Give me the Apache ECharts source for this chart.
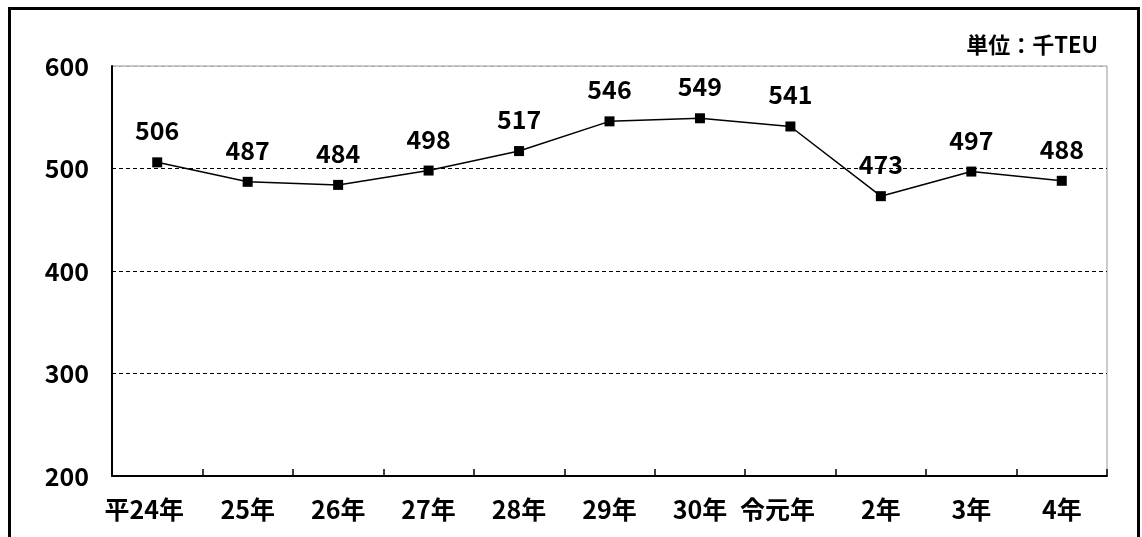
<!DOCTYPE html>
<html><head><meta charset="utf-8">
<script src="https://cdn.jsdelivr.net/npm/echarts@6/dist/echarts.min.js"></script>
<style>html,body{margin:0;padding:0;background:#fff}#c{width:1142px;height:537px}</style>
</head><body><div id="c"></div>
<script>
const categories = ['平24年','25年','26年','27年','28年','29年','30年','令元年','2年','3年','4年'];
const values = [506, 487, 484, 498, 517, 546, 549, 541, 473, 497, 488];
const yTicks = { min: 200, max: 600, interval: 100 };
const unitText = '単位：千TEU';

const FONT = "'Noto Sans CJK JP', sans-serif";
const chart = echarts.init(document.getElementById('c'), null, {renderer: 'canvas'});
const shifted = {'平24年': true, '令元年': true};
chart.setOption({
  animation: false,
  backgroundColor: '#fff',
  graphic: [
    {type: 'rect', shape: {x: 9.5, y: 8.5, width: 1129, height: 600},
     style: {fill: 'none', stroke: '#000', lineWidth: 3}, z: 100},
    {type: 'text', right: 44, top: 34,
     style: {text: unitText, font: 'bold 22px ' + FONT, fill: '#000'}}
  ],
  grid: {left: 112, right: 35, top: 66, bottom: 61, show: true,
         borderColor: '#999', borderWidth: 1, backgroundColor: 'transparent'},
  xAxis: {
    type: 'category', data: categories, boundaryGap: true,
    axisLine: {lineStyle: {color: '#000', width: 2}},
    axisTick: {show: true, interval: 0, inside: true, length: 7, lineStyle: {color: '#000', width: 1.5}},
    axisLabel: {
      interval: 0, margin: 21, color: '#000', fontFamily: FONT, fontWeight: 'bold', fontSize: 25,
      formatter: v => shifted[v] ? '{s|' + v + '}' : v,
      rich: {s: {padding: [0, 26, 0, 0], fontFamily: FONT, fontWeight: 'bold', fontSize: 25, color: '#000'}}
    }
  },
  yAxis: {
    type: 'value', min: yTicks.min, max: yTicks.max, interval: yTicks.interval,
    axisLine: {show: true, lineStyle: {color: '#000', width: 2}},
    axisTick: {show: false},
    axisLabel: {margin: 23, color: '#000', fontFamily: FONT, fontWeight: 'bold', fontSize: 25},
    splitLine: {show: true, lineStyle: {type: [4, 3], width: 1,
      color: ['#000', '#000', '#000', '#000', '#aaa']}}
  },
  series: [{
    type: 'line', data: values,
    symbol: 'rect', symbolSize: 10,
    lineStyle: {color: '#000', width: 1.5},
    itemStyle: {color: '#000'},
    label: {show: true, position: 'top', distance: 14, color: '#000',
            fontFamily: FONT, fontWeight: 'bold', fontSize: 25}
  }]
});
</script></body></html>
